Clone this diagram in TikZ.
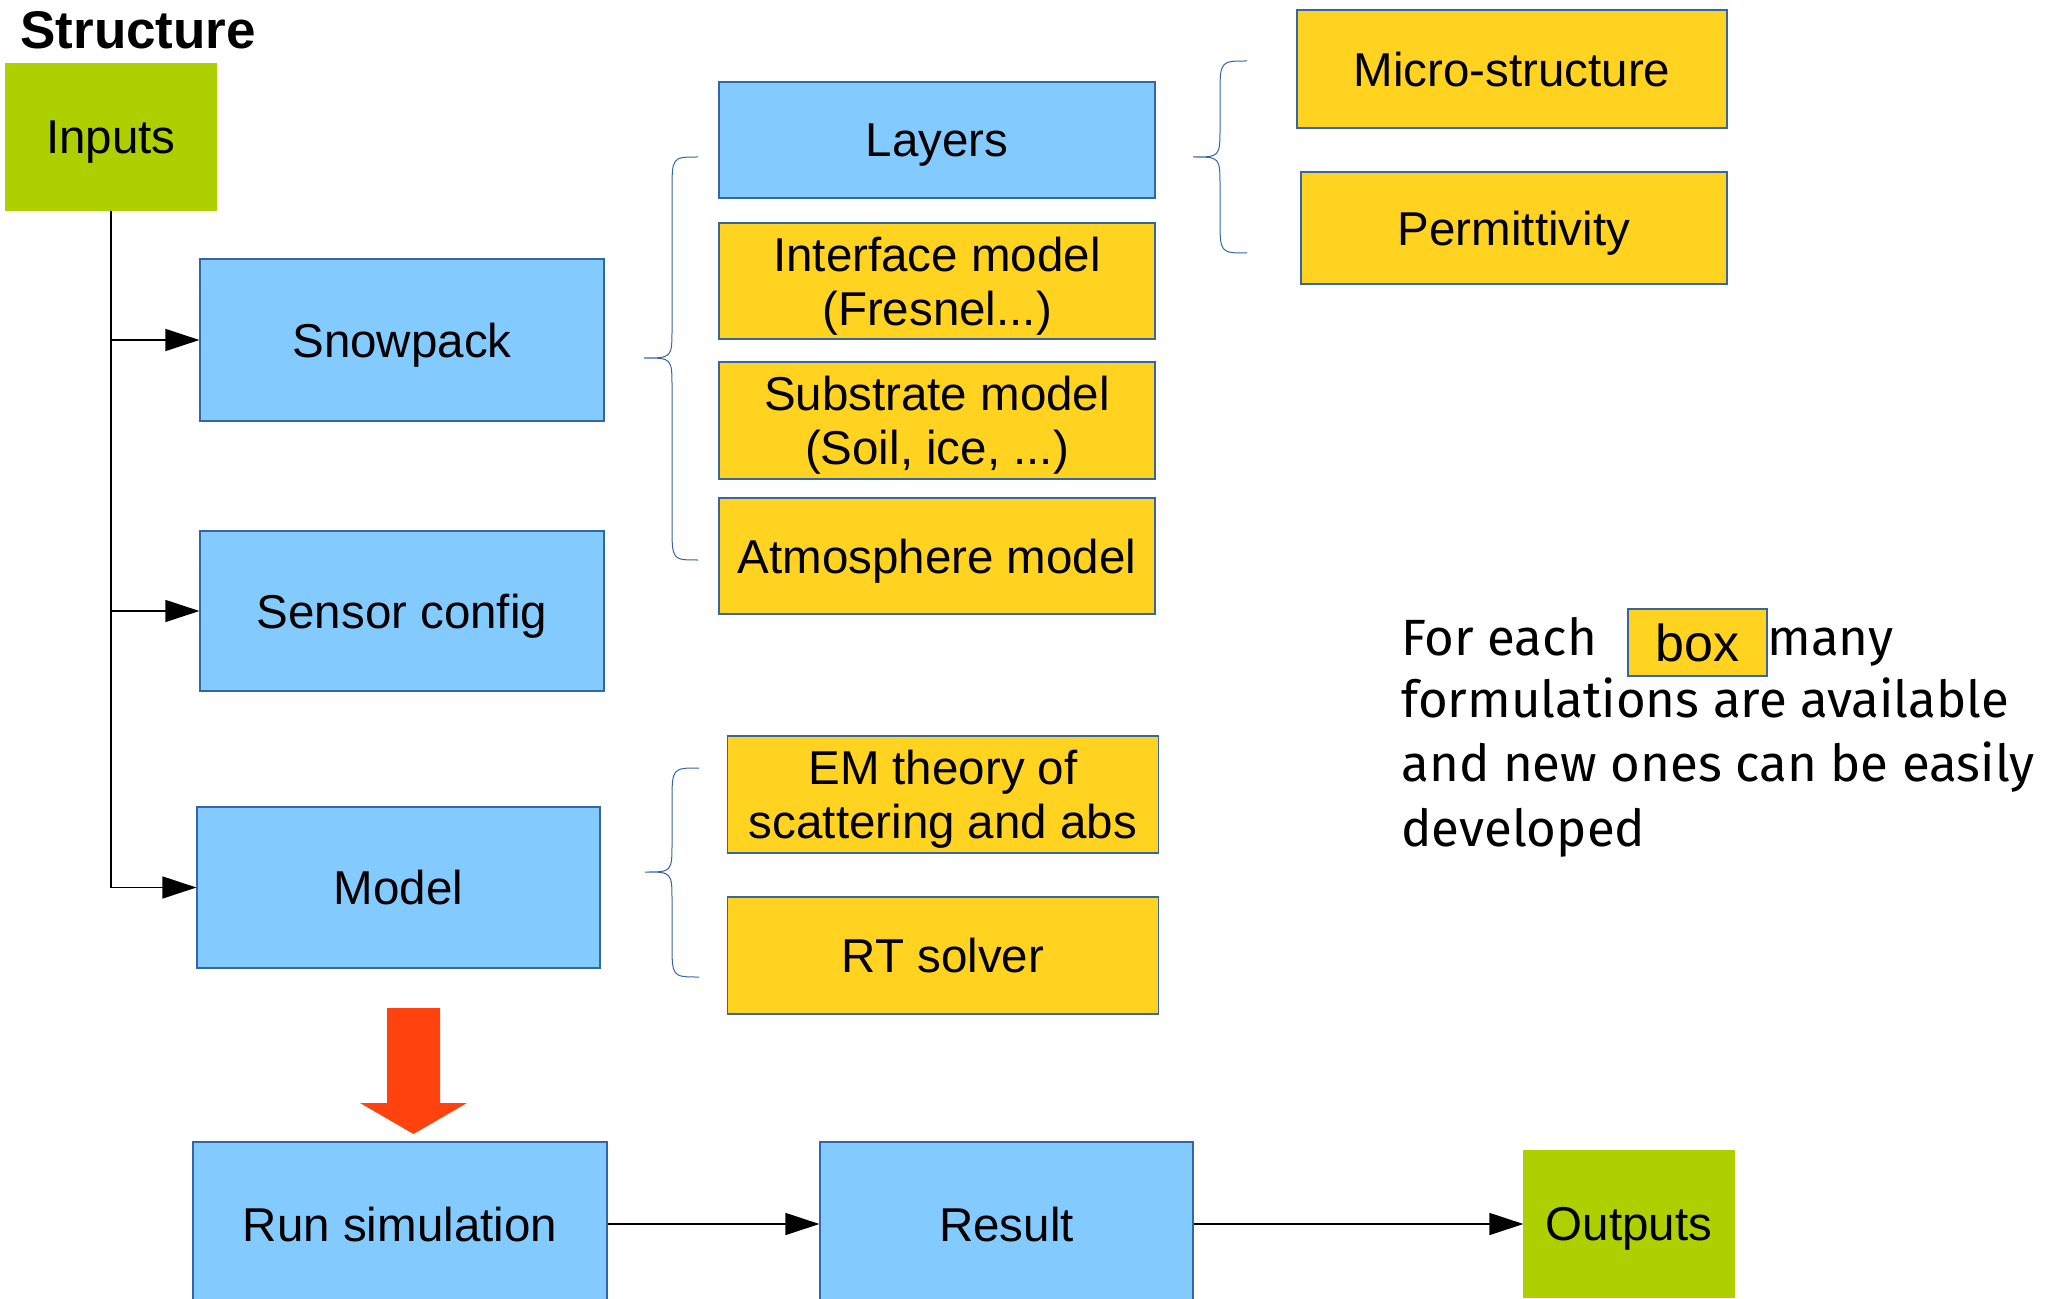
\documentclass[tikz,border=0pt]{standalone}
\usepackage{fontspec}
\setmainfont{Liberation Sans}
\newfontfamily\parafont{Fira Sans}
\usetikzlibrary{arrows.meta}
\definecolor{cblue}{HTML}{83CAFF}
\definecolor{cyel}{HTML}{FFD320}
\definecolor{cgreen}{HTML}{AECF00}
\definecolor{cred}{HTML}{FF420E}
\definecolor{cline}{HTML}{3465A4}
\newcommand\drawbrace[6]{% #1 end x, #2 stem x, #3 tip x, #4 top y, #5 tip y, #6 bottom y
  \draw[brace] (#1,#4) .. controls (#2,#4) .. (#2,#4+35) -- (#2,#5-30)
    .. controls (#2,#5) .. (#3,#5) .. controls (#2,#5) .. (#2,#5+30)
    -- (#2,#6-35) .. controls (#2,#6) .. (#1,#6);}
\begin{document}
\begin{tikzpicture}[x=0.5pt,y=-0.5pt,
  box/.style={draw=cline, line width=0.6pt, inner sep=0pt, align=center, text depth=0pt,
    font=\fontsize{23.75pt}{27pt}\selectfont},
  bluebox/.style={box, fill=cblue},
  yelbox/.style={box, fill=cyel},
  greenbox/.style={box, fill=cgreen, draw=cgreen},
  arr/.style={line width=0.7pt, -{Triangle[length=17pt,width=11pt]}},
  brace/.style={draw=cline, line width=0.5pt},
  para/.style={font=\parafont\fontsize{25.5pt}{32pt}\selectfont, inner sep=0pt, align=left}
]
\useasboundingbox (0,0) rectangle (2055,1299);

\node[font=\bfseries\fontsize{26.5pt}{30pt}\selectfont, anchor=base west, inner sep=0pt] (title) at (20,49) {Structure};

\node[greenbox, minimum width=105pt, minimum height=73pt] (inputs) at (111,137) {Inputs};
\node[bluebox, minimum width=202pt, minimum height=81pt] (snow) at (402,340) {Snowpack};
\node[bluebox, minimum width=202pt, minimum height=80pt] (sensor) at (402,611) {Sensor config};
\node[bluebox, minimum width=201.5pt, minimum height=80.5pt] (model) at (398.5,887.5) {Model};

\node[bluebox, minimum width=218pt, minimum height=58pt] (layers) at (937,140) {Layers};
\node[yelbox, minimum width=218pt, minimum height=58pt] (iface) at (937,281) {Interface model\\(Fresnel...)};
\node[yelbox, minimum width=218pt, minimum height=58.5pt] (subs) at (937,420.5) {Substrate model\\(Soil, ice, ...)};
\node[yelbox, minimum width=218pt, minimum height=58pt] (atmo) at (937,556) {Atmosphere model};

\node[yelbox, minimum width=215pt, minimum height=59pt] (micro) at (1512,69) {Micro-structure};
\node[yelbox, minimum width=213pt, minimum height=56pt] (perm) at (1514,228) {Permittivity};

\node[yelbox, minimum width=215.75pt, minimum height=58.5pt] (em) at (943,794.5) {EM theory of\\scattering and abs};
\node[yelbox, minimum width=215.75pt, minimum height=58.5pt] (rt) at (943,955.5) {RT solver};

\node[bluebox, minimum width=207pt, minimum height=82pt] (run) at (400,1224) {Run simulation};
\node[bluebox, minimum width=186.5pt, minimum height=82pt] (result) at (1006.5,1224) {Result};
\node[greenbox, minimum width=105pt, minimum height=73pt] (outputs) at (1629,1224) {Outputs};

% connectors
\draw[line width=0.7pt] (inputs.south) -- (inputs.south |- model.west);
\draw[arr] (inputs.south |- snow.west) -- (snow.west);
\draw[arr] (inputs.south |- sensor.west) -- (sensor.west);
\draw[arr] (inputs.south |- model.west) -- (model.west);
\draw[arr] (run.east) -- (result.west);
\draw[arr] (result.east) -- (outputs.west);

% big red arrow
\fill[cred] (387,1008) -- (440,1008) -- (440,1103) -- (467,1103) -- (413.5,1134)
  -- (360,1103) -- (387,1103) -- cycle;

% braces
\drawbrace{698}{672}{644}{157}{358}{560}
\drawbrace{1247}{1220}{1193}{61}{157}{253}
\drawbrace{699}{672}{645}{768}{872}{977}

% paragraph
\node[para, anchor=base west] (t1) at (1401,655) {For each};
\node[yelbox, minimum width=69.5pt, minimum height=33.5pt, font=\fontsize{26pt}{30pt}\selectfont] (bx) at (1697.5,642.5) {box};
\node[para, anchor=base west] (t1b) at (1767,655) {many};
\node[para, anchor=base west] (t2) at (1401,717) {formulations are available};
\node[para, anchor=base west] (t3) at (1401,781) {and new ones can be easily};
\node[para, anchor=base west] (t4) at (1401,846) {developed};
\end{tikzpicture}
\end{document}
